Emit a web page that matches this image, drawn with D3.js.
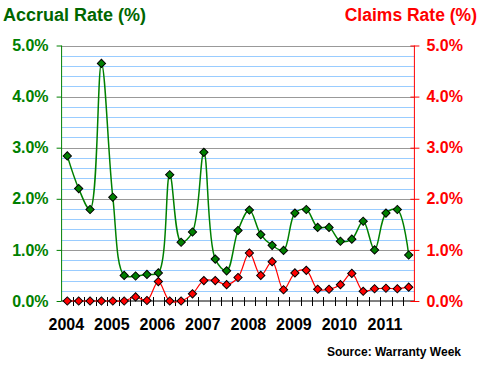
<!DOCTYPE html>
<html>
<head>
<meta charset="utf-8">
<script src="https://cdn.jsdelivr.net/npm/d3@7"></script>
<style>
  body { margin: 0; background: #fff; }
  svg { display: block; font-family: "Liberation Sans", Arial, sans-serif; }
</style>
</head>
<body>
<svg id="chart" width="484" height="365"></svg>
<script>
// Quarters from 2004 Q1 through 2011 Q3
const quarters = [
  '2004Q1', '2004Q2', '2004Q3', '2004Q4',
  '2005Q1', '2005Q2', '2005Q3', '2005Q4',
  '2006Q1', '2006Q2', '2006Q3', '2006Q4',
  '2007Q1', '2007Q2', '2007Q3', '2007Q4',
  '2008Q1', '2008Q2', '2008Q3', '2008Q4',
  '2009Q1', '2009Q2', '2009Q3', '2009Q4',
  '2010Q1', '2010Q2', '2010Q3', '2010Q4',
  '2011Q1', '2011Q2', '2011Q3'
];

// Accrual rate (%), green series
const accrualRate = [
  2.84, 2.20, 1.79, 4.65,
  2.03, 0.50, 0.49, 0.52,
  0.55, 2.47, 1.15, 1.35,
  2.91, 0.82, 0.59, 1.38,
  1.78, 1.30, 1.09, 0.99,
  1.72, 1.79, 1.44, 1.44,
  1.17, 1.21, 1.56, 1.00,
  1.72, 1.79, 0.90
];

// Claims rate (%), red series
const claimsRate = [
  0.00, 0.00, 0.00, 0.00,
  0.00, 0.00, 0.08, 0.01,
  0.38, 0.00, 0.00, 0.14,
  0.40, 0.40, 0.32, 0.46,
  0.94, 0.50, 0.77, 0.22,
  0.55, 0.60, 0.23, 0.23,
  0.32, 0.54, 0.19, 0.24,
  0.25, 0.24, 0.27
];

// Year labels sit under the first quarter of each year
const yearLabels = ['2004', '2005', '2006', '2007', '2008', '2009', '2010', '2011'];
const yearQuarters = ['2004Q1', '2005Q1', '2006Q1', '2007Q1', '2008Q1', '2009Q1', '2010Q1', '2011Q1'];

const majorTicks = [0, 1, 2, 3, 4, 5];
const minorTicks = [0.2, 0.4, 0.6, 0.8, 1.2, 1.4, 1.6, 1.8, 2.2, 2.4, 2.6, 2.8,
                    3.2, 3.4, 3.6, 3.8, 4.2, 4.4, 4.6, 4.8];

const green = '#008000';
const red = '#ff0000';

const svg = d3.select('#chart');
const plotLeft = 61.6, plotRight = 414.4, plotTop = 45.5, plotBottom = 301;

const x = d3.scaleBand().domain(quarters).range([plotLeft, plotRight]);
const y = d3.scaleLinear().domain([0, 5]).range([plotBottom, plotTop]);
const cx = (q) => x(q) + x.bandwidth() / 2;

// Gridlines: light blue minors, grey majors
svg.append('g')
  .selectAll('line')
  .data(minorTicks)
  .join('line')
  .attr('x1', plotLeft).attr('x2', plotRight)
  .attr('y1', (d) => Math.round(y(d)) + 0.5).attr('y2', (d) => Math.round(y(d)) + 0.5)
  .attr('stroke', '#99ccff');

svg.append('g')
  .selectAll('line')
  .data(majorTicks.filter((d) => d > 0))
  .join('line')
  .attr('x1', plotLeft).attr('x2', plotRight)
  .attr('y1', (d) => Math.round(y(d)) + 0.5).attr('y2', (d) => Math.round(y(d)) + 0.5)
  .attr('stroke', '#999999');

const fmt = (d) => d3.format('.1f')(d) + '%';

// Left axis (accrual)
const leftAxis = svg.append('g')
  .attr('transform', 'translate(' + plotLeft + ',0)')
  .call(d3.axisLeft(y).tickValues(majorTicks).tickFormat(fmt).tickSize(5).tickPadding(8));
leftAxis.select('.domain').attr('stroke', green).attr('d', 'M0,' + plotTop + 'V' + plotBottom);
leftAxis.selectAll('.tick line').attr('stroke', green);
leftAxis.selectAll('.tick text')
  .attr('fill', green)
  .style('font-size', '16px')
  .style('font-weight', 'bold');

// Bottom axis: ticks on the quarter boundaries
svg.append('g')
  .selectAll('line')
  .data(quarters.slice(1))
  .join('line')
  .attr('x1', (d) => Math.round(x(d)) + 0.5).attr('x2', (d) => Math.round(x(d)) + 0.5)
  .attr('y1', plotBottom - 4).attr('y2', plotBottom + 5)
  .attr('stroke', '#000');
svg.append('line')
  .attr('x1', plotLeft).attr('x2', plotRight)
  .attr('y1', plotBottom).attr('y2', plotBottom)
  .attr('stroke', '#000');

svg.append('g')
  .selectAll('text')
  .data(yearLabels)
  .join('text')
  .attr('x', (d, i) => cx(yearQuarters[i]) - 1)
  .attr('y', 329.5)
  .attr('text-anchor', 'middle')
  .style('font-size', '16px')
  .style('font-weight', 'bold')
  .attr('fill', '#000')
  .text((d) => d);

// Right axis (claims)
const rightAxis = svg.append('g')
  .attr('transform', 'translate(' + plotRight + ',0)')
  .call(d3.axisRight(y).tickValues(majorTicks).tickFormat(fmt).tickSize(5).tickPadding(7));
rightAxis.select('.domain').attr('stroke', red).attr('d', 'M0,' + plotTop + 'V' + plotBottom);
rightAxis.selectAll('.tick line').attr('stroke', red).attr('x1', -4);
rightAxis.selectAll('.tick text')
  .attr('fill', red)
  .style('font-size', '16px')
  .style('font-weight', 'bold');

// Smoothed lines, like the spreadsheet original
const line = (values) => d3.line()
  .x((d, i) => cx(quarters[i]))
  .y((d) => y(d))
  .curve(d3.curveCatmullRom.alpha(0.5))(values);

svg.append('path')
  .attr('d', line(claimsRate))
  .attr('fill', 'none')
  .attr('stroke', red)
  .attr('stroke-width', 1.2);

svg.append('path')
  .attr('d', line(accrualRate))
  .attr('fill', 'none')
  .attr('stroke', green)
  .attr('stroke-width', 1.5);

const diamond = d3.symbol().type(d3.symbolSquare).size(34);

function markers(values, fill) {
  svg.append('g')
    .selectAll('path')
    .data(values)
    .join('path')
    .attr('d', diamond)
    .attr('transform', (d, i) => 'translate(' + cx(quarters[i]) + ',' + y(d) + ') rotate(45)')
    .attr('fill', fill)
    .attr('stroke', '#000')
    .attr('stroke-width', 1);
}
markers(claimsRate, red);
markers(accrualRate, green);

// Titles
svg.append('text')
  .attr('x', 3).attr('y', 20.5)
  .style('font-size', '18px').style('font-weight', 'bold')
  .attr('fill', '#006600')
  .text('Accrual Rate (%)');

svg.append('text')
  .attr('x', 477).attr('y', 20.5)
  .attr('text-anchor', 'end')
  .style('font-size', '17.5px').style('font-weight', 'bold')
  .attr('fill', red)
  .text('Claims Rate (%)');

svg.append('text')
  .attr('x', 461).attr('y', 356)
  .attr('text-anchor', 'end')
  .style('font-size', '12px').style('font-weight', 'bold')
  .attr('fill', '#000')
  .text('Source: Warranty Week');
</script>
</body>
</html>
